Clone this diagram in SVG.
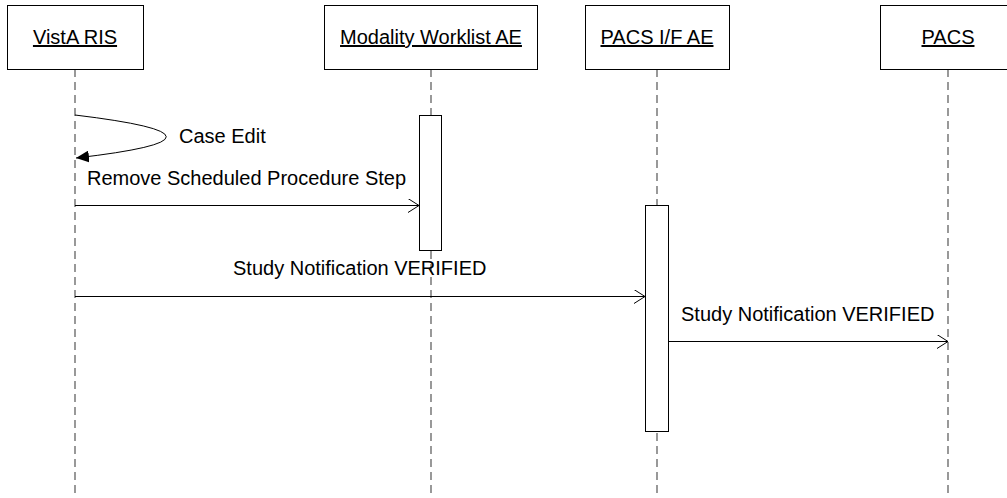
<svg xmlns="http://www.w3.org/2000/svg" width="1007" height="498" viewBox="0 0 1007 498">
<style>
.box{fill:#fff;stroke:#000;stroke-width:1}
.life{stroke:#555;stroke-width:1.2;stroke-dasharray:8 5;fill:none}
.act{fill:#fff;stroke:#000;stroke-width:1}
.msg{stroke:#000;stroke-width:1;fill:none}
text{font-family:"Liberation Sans",Arial,sans-serif;font-size:20px;fill:#000}
.hd{text-anchor:middle;text-decoration:underline}
</style>
<defs>
<marker id="open" viewBox="0 0 12 14" refX="11" refY="7" markerWidth="12" markerHeight="14" markerUnits="userSpaceOnUse" orient="auto">
<path d="M0,0 L11,7 L0,14" fill="none" stroke="#000" stroke-width="1"/>
</marker>
<marker id="filled" viewBox="0 0 14 12" refX="13" refY="6" markerWidth="14" markerHeight="12" markerUnits="userSpaceOnUse" orient="auto">
<path d="M0,0 L13,6 L0,12 Z" fill="#000"/>
</marker>
</defs>
<rect width="1007" height="498" fill="#fff"/>
<g id="lifelines">
<line class="life" x1="75" y1="69" x2="75" y2="498"/>
<line class="life" x1="431" y1="69" x2="431" y2="498"/>
<line class="life" x1="657" y1="69" x2="657" y2="498"/>
<line class="life" x1="948" y1="69" x2="948" y2="498"/>
</g>
<g id="vista-ris"><rect class="box" x="7.5" y="5.5" width="136" height="64"/><text class="hd" x="75" y="44">VistA RIS</text></g>
<g id="modality-worklist"><rect class="box" x="324.5" y="5.5" width="213" height="64"/><text class="hd" x="431" y="44">Modality Worklist AE</text></g>
<g id="pacs-if-ae"><rect class="box" x="585.5" y="5.5" width="144" height="64"/><text class="hd" x="657" y="44">PACS I/F AE</text></g>
<g id="pacs"><rect class="box" x="880.5" y="5.5" width="136" height="64"/><text class="hd" x="948" y="44">PACS</text></g>
<g id="act-modality"><rect class="act" x="419.5" y="115.5" width="22" height="135"/></g>
<g id="act-pacs-if"><rect class="act" x="645.5" y="205.5" width="23" height="226"/></g>
<g id="connectors">
<path class="msg" d="M75,115 Q257,137 76,158" marker-end="url(#filled)"/>
<line class="msg" x1="75" y1="205.5" x2="419" y2="205.5" marker-end="url(#open)"/>
<line class="msg" x1="75" y1="296.5" x2="645" y2="296.5" marker-end="url(#open)"/>
<line class="msg" x1="669" y1="341.5" x2="948" y2="341.5" marker-end="url(#open)"/>
</g>
<g id="labels">
<text x="179" y="143">Case Edit</text>
<text x="87" y="185">Remove Scheduled Procedure Step</text>
<text x="233" y="275">Study Notification VERIFIED</text>
<text x="681" y="321">Study Notification VERIFIED</text>
</g>
</svg>
